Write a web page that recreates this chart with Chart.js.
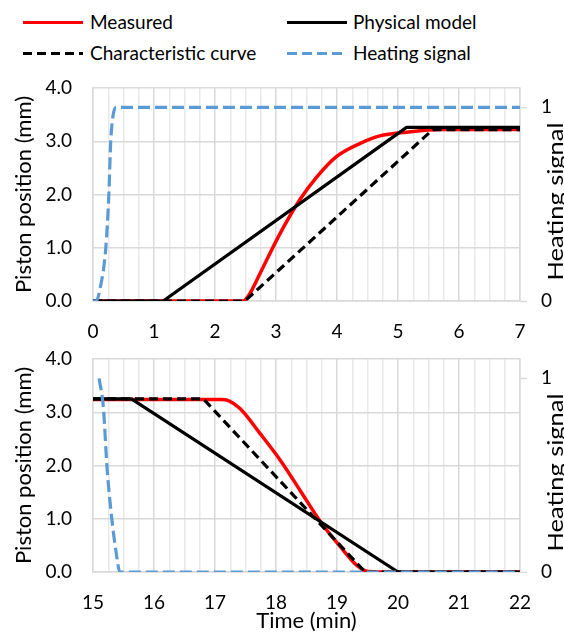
<!DOCTYPE html>
<html>
<head>
<meta charset="utf-8">
<script src="https://cdn.jsdelivr.net/npm/chart.js@4.4.1/dist/chart.umd.min.js"></script>
<style>
  html, body { margin: 0; padding: 0; background: #ffffff; }
  body { width: 564px; height: 634px; position: relative; overflow: hidden; font-family: Lato, sans-serif; }
  .box { position: absolute; left: 0; width: 564px; }
  .lg-line { position: absolute; height: 3px; width: 60px; }
  .lg-text { position: absolute; font-size: 19px; line-height: 24px; color: #000; white-space: nowrap; }
</style>
</head>
<body>
<div class="lg-line" style="left:23px; top:21px; background:#ff0000;"></div>
<div class="lg-text" style="left:90px; top:10px;">Measured</div>
<div class="lg-line" style="left:287px; top:21px; background:#000000;"></div>
<div class="lg-text" style="left:353px; top:10px;">Physical model</div>
<div class="lg-line" style="left:23px; top:52px; background:repeating-linear-gradient(to right,#000 0 9px,transparent 9px 14px);"></div>
<div class="lg-text" style="left:90px; top:41px;">Characteristic curve</div>
<div class="lg-line" style="left:287px; top:52px; background:repeating-linear-gradient(to right,#5b9bd5 0 10px,transparent 10px 15px);"></div>
<div class="lg-text" style="left:353px; top:41px;">Heating signal</div>

<div class="box" style="top:70px; height:270px;"><canvas id="c1"></canvas></div>
<div class="box" style="top:340px; height:294px;"><canvas id="c2"></canvas></div>

<script>
// ---------- Data ----------
// Top panel: heating phase, time 0–7 min
const measuredTopTime  = [0, 2.46, 2.56, 2.74, 3.04, 3.39, 3.67, 3.99, 4.38, 4.70, 5.14, 5.69, 7];
const measuredTopPos   = [0, 0, 0.12, 0.52, 1.21, 1.90, 2.33, 2.71, 2.96, 3.10, 3.17, 3.22, 3.22];
const physicalTopTime  = [0, 1.15, 5.14, 7];
const physicalTopPos   = [0, 0, 3.26, 3.26];
const charTopTime      = [0, 2.49, 5.57, 7];
const charTopPos       = [0, 0, 3.22, 3.22];
const heatTopTime      = [0, 0.05, 0.12, 0.21, 0.26, 0.29, 0.33, 0.38, 7];
const heatTopSignal    = [0, 0, 0.07, 0.275, 0.55, 0.82, 0.96, 1, 1];

// Bottom panel: cooling phase, time 15–22 min
const measuredBotTime  = [15, 17.1, 17.22, 17.41, 17.74, 18.07, 18.39, 18.75, 19.05, 19.32, 19.51, 20, 22];
const measuredBotPos   = [3.24, 3.24, 3.22, 3.07, 2.60, 2.10, 1.54, 0.91, 0.48, 0.13, 0.01, 0, 0];
const physicalBotTime  = [15, 15.63, 20.0, 22];
const physicalBotPos   = [3.25, 3.25, 0, 0];
const charBotTime      = [15, 16.81, 19.46, 22];
const charBotPos       = [3.25, 3.25, 0, 0];
const heatBotTime      = [15.1, 15.17, 15.23, 15.31, 15.38, 15.44, 22];
const heatBotSignal    = [1, 0.85, 0.54, 0.27, 0.1, 0, 0];

// Tick labels / axis texts
const leftTicks  = [0, 1, 2, 3, 4];
const rightTicks = [0, 1];
const topXRange  = [0, 7];
const botXRange  = [15, 22];
const seriesNames = ['Measured', 'Physical model', 'Characteristic curve', 'Heating signal'];
const yTitle = 'Piston position (mm)';
const y2Title = 'Heating signal';
const xTitle = 'Time (min)';

// ---------- Helpers ----------
const pts = (xs, ys) => xs.map((x, i) => ({ x: x, y: ys[i] }));
const FONT = 'Lato';
const MAJOR = '#d9d9d9', MINOR = '#e9e9e9';

const rightTitlePlugin = {
  id: 'rightTitle',
  afterDraw(chart) {
    const ctx = chart.ctx, a = chart.chartArea;
    ctx.save();
    ctx.font = '22px ' + FONT;
    const w = ctx.measureText(y2Title).width;
    ctx.translate(556, (a.top + a.bottom) / 2 + 7);
    ctx.rotate(-Math.PI / 2);
    ctx.scale(158 / w, 1);
    ctx.fillStyle = '#000';
    ctx.textAlign = 'center';
    ctx.textBaseline = 'middle';
    ctx.fillText(y2Title, 0, 0);
    ctx.restore();
  }
};

function makeChart(id, range, d, showXTitle, padTop, xAxisHeight) {
  const datasets = [
    { label: seriesNames[0], data: pts(d.mt, d.mp), borderColor: '#ff0000', borderWidth: 3.5,
      cubicInterpolationMode: 'monotone', yAxisID: 'y', order: 3 },
    { label: seriesNames[1], data: pts(d.pt, d.pp), borderColor: '#000000', borderWidth: 3.2,
      tension: 0, yAxisID: 'y', order: 2 },
    { label: seriesNames[2], data: pts(d.ct, d.cp), borderColor: '#000000', borderWidth: 3.2,
      borderDash: [9, 5], tension: 0, yAxisID: 'y', order: 1 },
    { label: seriesNames[3], data: pts(d.ht, d.hs), borderColor: '#5b9bd5', borderWidth: 3.2,
      borderDash: [12, 5], cubicInterpolationMode: 'monotone', yAxisID: 'y2', order: 0 }
  ];
  datasets.forEach(ds => { ds.pointRadius = 0; ds.showLine = true; ds.fill = false; ds.borderCapStyle = 'butt'; ds.borderJoinStyle = 'round'; });

  return new Chart(document.getElementById(id), {
    type: 'scatter',
    data: { datasets },
    plugins: [rightTitlePlugin],
    options: {
      responsive: true,
      maintainAspectRatio: false,
      animation: false,
      events: [],
      layout: { padding: { top: padTop, left: 0, right: 0, bottom: 0 } },
      plugins: { legend: { display: false }, tooltip: { enabled: false } },
      scales: {
        x: {
          type: 'linear', min: range[0], max: range[1],
          afterFit: s => { s.height = xAxisHeight; },
          afterBuildTicks: s => {
            const t = [];
            for (let k = 0; k <= (range[1] - range[0]) * 4; k++) t.push({ value: range[0] + k * 0.25 });
            s.ticks = t;
          },
          ticks: {
            autoSkip: false, maxRotation: 0, minRotation: 0, padding: 19,
            color: '#000', font: { family: FONT, size: 19 },
            callback: v => Number.isInteger(v) ? String(v) : ''
          },
          grid: {
            drawTicks: false,
            lineWidth: 1.5,
            color: c => (c.tick && Number.isInteger(c.tick.value)) ? MAJOR : MINOR
          },
          border: { display: true, color: MAJOR, width: 1.5 },
          title: { display: showXTitle, text: xTitle, color: '#000',
                   font: { family: FONT, size: 22 }, padding: { top: 0, bottom: 0 } }
        },
        y: {
          type: 'linear', position: 'left', min: 0, max: 4,
          afterFit: s => { s.width = 93; },
          afterBuildTicks: s => { s.ticks = leftTicks.map(v => ({ value: v })); },
          ticks: { padding: 0, color: '#000', font: { family: FONT, size: 19 },
                   callback: v => Number(v).toFixed(1) },
          grid: { drawTicks: true, tickLength: 21, tickColor: 'rgba(0,0,0,0)', color: MAJOR, lineWidth: 1.5 },
          border: { display: true, color: MAJOR, width: 1.5 },
          title: { display: true, text: yTitle, color: '#000',
                   font: { family: FONT, size: 22 }, padding: { top: 11, bottom: 0 } }
        },
        y2: {
          type: 'linear', position: 'right', min: 0, max: 1.1,
          afterFit: s => { s.width = 44; },
          afterBuildTicks: s => { s.ticks = rightTicks.map(v => ({ value: v })); },
          ticks: { padding: 14, color: '#000', font: { family: FONT, size: 19, lineHeight: 0.4 },
                   callback: v => String(v) },
          grid: { drawOnChartArea: false, drawTicks: true, tickLength: 7, tickColor: MAJOR, tickWidth: 1.5 },
          border: { display: true, color: MAJOR, width: 1.5 }
        }
      }
    }
  });
}

makeChart('c1', topXRange, {
  mt: measuredTopTime, mp: measuredTopPos, pt: physicalTopTime, pp: physicalTopPos,
  ct: charTopTime, cp: charTopPos, ht: heatTopTime, hs: heatTopSignal
}, false, 18, 39);

makeChart('c2', botXRange, {
  mt: measuredBotTime, mp: measuredBotPos, pt: physicalBotTime, pp: physicalBotPos,
  ct: charBotTime, cp: charBotPos, ht: heatBotTime, hs: heatBotSignal
}, true, 19, 62);
</script>
</body>
</html>
